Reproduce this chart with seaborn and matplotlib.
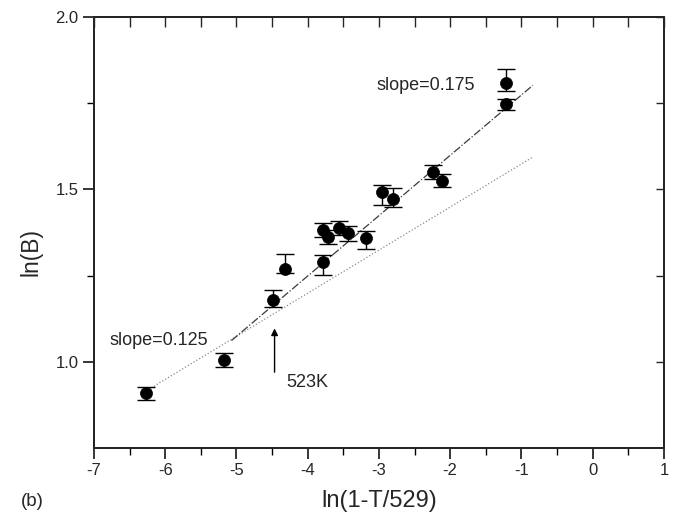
import numpy as np
import pandas as pd
import seaborn as sns
import matplotlib.pyplot as plt
from matplotlib.ticker import MultipleLocator, FixedLocator

# data
x_vals = [-6.27, -5.175, -4.49, -4.325, -3.79, -3.79, -3.72, -3.565, -3.44, -3.18,
          -2.95, -2.80, -2.24, -2.11, -1.22, -1.22]
y_vals = [0.911, 1.005, 1.178, 1.269, 1.289, 1.383, 1.361, 1.389, 1.373, 1.358,
          1.494, 1.473, 1.550, 1.526, 1.747, 1.810]
err_low = [0.022, 0.020, 0.018, 0.012, 0.036, 0.020, 0.020, 0.020, 0.022, 0.031,
           0.040, 0.024, 0.020, 0.020, 0.016, 0.025]
err_high = [0.017, 0.020, 0.030, 0.044, 0.022, 0.020, 0.020, 0.020, 0.022, 0.022,
            0.020, 0.030, 0.020, 0.020, 0.016, 0.039]

# fitted lines: slope, intercept, x range
fit_steep = (0.175, 1.949, [-5.07, -0.84])
fit_shallow = (0.125, 1.699, [-6.24, -0.84])

x_ticks = [-7, -6, -5, -4, -3, -2, -1, 0, 1]
y_ticks = [1.0, 1.5, 2.0]
y_minor = [1.25, 1.75]

df = pd.DataFrame({"x": x_vals, "y": y_vals})

sns.set_theme(style="ticks")
plt.rcParams['font.family'] = ['Liberation Sans', 'DejaVu Sans']

fig = plt.figure(figsize=(6.83, 5.19), dpi=100)
ax = fig.add_axes([0.1376, 0.1368, 0.972 - 0.1376, 0.967 - 0.1368])

# fit lines
for (slope, icpt, xr), ls, col in [(fit_shallow, ':', '#8a8a8a'), (fit_steep, '-.', '#3a3a3a')]:
    xs = np.array(xr)
    line_df = pd.DataFrame({"x": xs, "y": icpt + slope * xs})
    sns.lineplot(data=line_df, x="x", y="y", ax=ax, color=col, linestyle=ls, linewidth=0.9)

ax.errorbar(x_vals, y_vals, yerr=[err_low, err_high], fmt='none', ecolor='black',
            elinewidth=1.0, capsize=6.5, capthick=1.0, zorder=3)
sns.scatterplot(data=df, x="x", y="y", ax=ax, color='black', s=75, edgecolor='black',
                linewidth=0.5, zorder=4)

ax.text(-3.04, 1.802, "slope=0.175", fontsize=13, va='center', ha='left')
ax.text(-6.786, 1.063, "slope=0.125", fontsize=13, va='center', ha='left')
ax.annotate("", xy=(-4.465, 1.105), xytext=(-4.465, 0.962),
            arrowprops=dict(arrowstyle='-|>', color='black', lw=1.0, mutation_scale=10))
ax.text(-4.30, 0.940, "523K", fontsize=13, va='center', ha='left')

ax.set_xlim(-7, 1)
ax.set_ylim(0.75, 2.0)
ax.xaxis.set_major_locator(FixedLocator(x_ticks))
ax.xaxis.set_minor_locator(MultipleLocator(0.5))
ax.yaxis.set_major_locator(FixedLocator(y_ticks))
ax.yaxis.set_minor_locator(FixedLocator(y_minor))
ax.set_xticklabels([str(v) for v in x_ticks], fontsize=12)
ax.set_yticklabels([f"{v:.1f}" for v in y_ticks], fontsize=12)

for side in ['top', 'right', 'bottom', 'left']:
    ax.spines[side].set_visible(True)
    ax.spines[side].set_linewidth(1.3)
    ax.spines[side].set_color('black')

ax.tick_params(axis='both', which='major', direction='out', length=8, width=1.1,
               pad=3, color='black')
ax.tick_params(axis='both', which='minor', direction='out', length=5, width=1.0, color='black')

# mirrored ticks on top and right point inwards
ax_top = ax.twiny()
ax_top.set_xlim(ax.get_xlim())
ax_top.xaxis.set_major_locator(MultipleLocator(0.5))
ax_top.tick_params(axis='x', direction='in', length=7, width=1.0, top=True,
                   bottom=False, labeltop=False, labelbottom=False)
ax_right = ax.twinx()
ax_right.set_ylim(ax.get_ylim())
ax_right.yaxis.set_major_locator(FixedLocator(sorted(y_ticks + y_minor)))
ax_right.tick_params(axis='y', direction='in', length=6, width=1.0, right=True,
                     left=False, labelright=False, labelleft=False)
for a in (ax_top, ax_right):
    for side in a.spines:
        a.spines[side].set_linewidth(1.3)

ax.set_xlabel("ln(1-T/529)", fontsize=17)
ax.set_ylabel("ln(B)", fontsize=16.5)
ax.xaxis.set_label_coords(0.5, -0.0975)
ax.yaxis.set_label_coords(-0.0895, 0.455)

fig.text(32 / 683, 1 - 502 / 519, "(b)", fontsize=13.5, ha='center', va='center')

fig.savefig("out.png", dpi=100)
